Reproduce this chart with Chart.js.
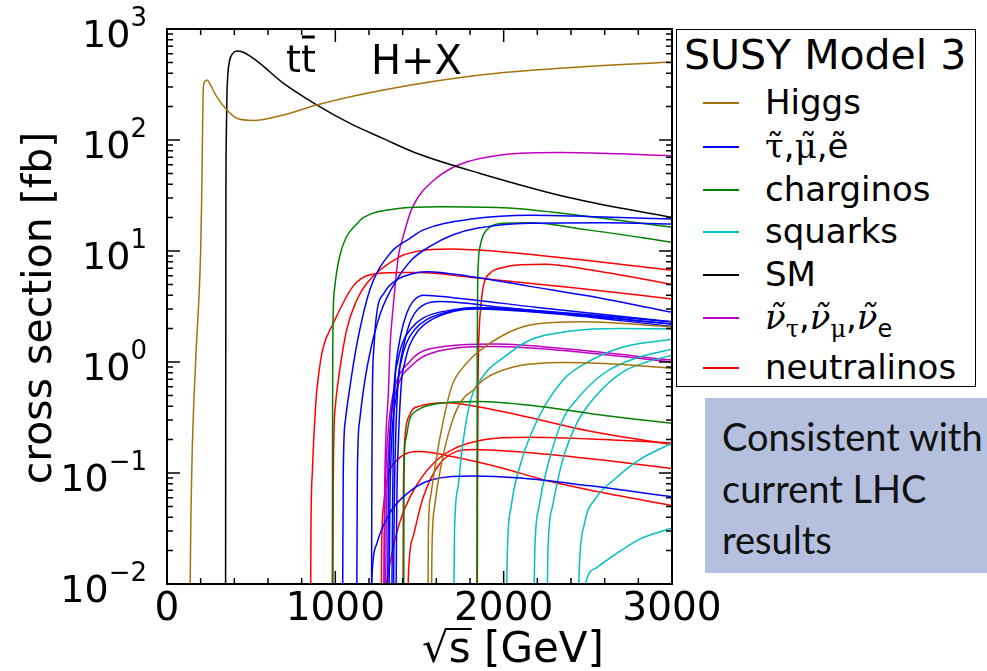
<!DOCTYPE html>
<html>
<head>
<meta charset="utf-8">
<script src="https://cdn.jsdelivr.net/npm/chart.js@4.4.1/dist/chart.umd.min.js"></script>
<style>
  body { margin: 0; background: #fff; }
  #wrap { position: relative; width: 987px; height: 671px; overflow: hidden; }
  #chart { position: absolute; left: 0; top: 0; }
  #legend {
    position: absolute; left: 676px; top: 29px; width: 298px; height: 356px;
    border: 1.5px solid #000; background: #fff; font-family: "DejaVu Sans"; color: #000;
  }
  #legend .title { position: absolute; left: 7px; top: 1px; font-size: 41px; white-space: nowrap; }
  #legend .row { position: absolute; left: 0; height: 0; }
  #legend .sw { position: absolute; left: 26px; width: 36px; top: -1px; height: 1.6px; }
  #legend .lbl { position: absolute; left: 88px; top: -21px; font-size: 34px; line-height: 40px; white-space: nowrap; }
  .gr { font-family: "DejaVu Serif"; }
  .it { font-style: italic; }
  #note {
    position: absolute; left: 705px; top: 398px; width: 300px; height: 175px;
    background: #b4c0de; font-family: Lato, "Open Sans", sans-serif; font-size: 38px; color: #111;
  }
  #note div { position: absolute; left: 17px; white-space: nowrap; }
</style>
</head>
<body>
<div id="wrap">
  <canvas id="chart" width="987" height="671"></canvas>
  <div id="legend"><div class="title">SUSY Model 3</div></div>
  <div id="note">
    <div style="top:15px">Consistent with</div>
    <div style="top:67px">current LHC</div>
    <div style="top:118px">results</div>
  </div>
</div>
<script>
// sqrt(s) [GeV], cross section [fb]
const higgsMain = [[137,0.005],[138,0.01],[147,0.1],[170,1],[200,10],[206,30],[216,302],[228,340],[239,347],[255,320],[295,246],[355,187],[414,157],[513,150],[691,168],[889,207],[1285,282],[1860,385],[2400,450],[3000,505]];
const higgs2 = [[1550,0.005],[1553,0.03],[1565,0.06],[1582,0.09],[1622,0.21],[1691,0.6],[1760,0.9],[1840,1.2],[2000,1.75],[2157,2.15],[2473,2.3],[3000,2.07]];
const higgs3 = [[1570,0.005],[1574,0.02],[1590,0.05],[1630,0.12],[1690,0.28],[1751,0.45],[1820,0.56],[1879,0.69],[2057,0.9],[2350,0.99],[2600,0.97],[3000,0.88]];

const smTop = [[348,0.005],[349,1],[350,30],[352,100],[356,250],[362,400],[372,520],[390,600],[418,633],[450,620],[500,560],[552,490],[691,325],[889,207],[1087,141],[1285,103],[1483,76],[1860,50],[2400,30],[3000,20]];

const slep1 = [[1043,0.005],[1047,0.1],[1060,0.3],[1087,0.6],[1130,1.5],[1206,4.5],[1325,9.5],[1444,13],[1523,15.5],[1820,19.5],[2157,21],[2500,20.5],[3000,19.4]];
const slep2 = [[1127,0.005],[1131,0.1],[1145,0.3],[1164,0.52],[1200,1.1],[1270,2.8],[1365,5.5],[1460,8.5],[1562,11],[1700,14],[1840,16],[2157,17.8],[2600,18],[3000,17.5]];
const slep3 = [[1215,0.005],[1217,0.1],[1220,0.5],[1230,1.4],[1246,2.75],[1290,4.2],[1365,5.5],[1450,6.2],[1543,6.5],[1800,5.9],[2157,4.8],[2600,3.7],[3000,2.8]];
const slep4 = [[1310,0.005],[1315,0.05],[1325,0.2],[1345,0.52],[1362,1.0],[1390,1.8],[1424,2.75],[1460,3.5],[1523,4.0],[1700,3.8],[2200,3.1],[3000,2.3]];
const slep5 = [[1318,0.005],[1324,0.05],[1335,0.2],[1365,0.52],[1382,0.9],[1410,1.5],[1450,2.4],[1530,3.3],[1620,3.5],[2000,3.1],[3000,2.2]];
const slep6 = [[1335,0.005],[1340,0.05],[1345,0.2],[1355,0.69],[1370,1.0],[1400,1.5],[1450,2.0],[1523,2.5],[1700,2.95],[1840,3.1],[2200,2.9],[3000,2.3]];
const slep7 = [[1345,0.005],[1350,0.05],[1358,0.2],[1374,0.69],[1390,1.0],[1420,1.45],[1470,1.95],[1540,2.4],[1700,2.9],[1840,3.05],[2200,2.85],[3000,2.2]];
const slep8 = [[1360,0.005],[1365,0.05],[1375,0.2],[1394,0.69],[1410,0.95],[1440,1.4],[1490,1.9],[1560,2.35],[1700,2.85],[1840,3.0],[2200,2.8],[3000,2.1]];
const slep9 = [[1212,0.005],[1218,0.012],[1246,0.023],[1325,0.044],[1404,0.061],[1562,0.086],[1820,0.094],[2100,0.09],[2500,0.077],[3000,0.061]];

const chi1 = [[982,0.005],[984,0.5],[987,2.5],[995,4.5],[1008,6.5],[1030,9.5],[1067,13.5],[1127,17.5],[1166,20],[1364,24],[1622,25],[2000,24.5],[2500,20.5],[3000,16.4]];
const chi2 = [[1841,0.005],[1843,1],[1845,4],[1850,8],[1860,11],[1880,14],[1920,16.5],[2000,17.8],[2156,18],[2500,15.5],[3000,12]];
const chi3 = [[1406,0.005],[1408,0.1],[1418,0.2],[1440,0.3],[1490,0.37],[1600,0.42],[1850,0.44],[2200,0.4],[2600,0.33],[3000,0.28]];

const sq1 = [[1703,0.005],[1708,0.03],[1730,0.076],[1751,0.155],[1800,0.43],[1879,0.75],[2000,1.1],[2157,1.58],[2400,1.9],[2700,2.0],[3000,1.98]];
const sq2 = [[2015,0.005],[2022,0.02],[2045,0.05],[2100,0.12],[2200,0.3],[2353,0.69],[2500,1.0],[2700,1.35],[3000,1.6]];
const sq3 = [[2178,0.005],[2185,0.02],[2210,0.05],[2270,0.13],[2350,0.3],[2434,0.46],[2600,0.8],[2800,1.1],[3000,1.3]];
const sq4 = [[2257,0.005],[2263,0.02],[2290,0.05],[2350,0.13],[2434,0.28],[2550,0.5],[2700,0.8],[2850,1.0],[3000,1.15]];
const sq5 = [[2441,0.005],[2450,0.015],[2480,0.035],[2550,0.06],[2652,0.086],[2800,0.13],[3000,0.186]];
const sq6 = [[2471,0.005],[2480,0.009],[2550,0.014],[2652,0.018],[2800,0.025],[3000,0.032]];

const snu1 = [[1288,0.005],[1292,0.05],[1300,0.2],[1315,0.52],[1325,1.37],[1345,3.3],[1374,8.9],[1400,13],[1453,23.7],[1582,43],[1860,68],[2340,77],[2700,75],[3000,72]];
const snu2 = [[1288,0.005],[1292,0.03],[1300,0.1],[1320,0.3],[1355,0.6],[1440,1.0],[1550,1.3],[1950,1.45],[2400,1.3],[3000,1.04]];
const snu3 = [[1298,0.005],[1302,0.03],[1310,0.1],[1330,0.3],[1370,0.6],[1460,0.95],[1570,1.2],[1950,1.38],[2400,1.25],[3000,1.0]];

const neu1 = [[853,0.005],[855,0.027],[864,0.107],[884,0.43],[900,0.75],[925,1.3],[986,2.2],[1105,4.8],[1206,6.1],[1384,6.4],[1500,6.4],[1800,5.8],[2400,4.7],[3000,3.7]];
const neu2 = [[985,0.005],[988,0.1],[1000,0.4],[1018,0.69],[1067,1.94],[1127,3.6],[1186,5.1],[1384,8.9],[1500,10],[1680,10.4],[2000,9.8],[2500,8.2],[3000,6.7]];
const neu3 = [[1843,0.005],[1845,0.1],[1848,0.7],[1855,2],[1862,2.9],[1879,4.8],[1919,6.3],[2000,7.1],[2100,7.5],[2250,7.6],[2500,6.8],[3000,5.0]];
const neu4 = [[1273,0.005],[1275,0.02],[1286,0.05],[1310,0.09],[1365,0.13],[1503,0.156],[1700,0.14],[2000,0.11],[2236,0.087],[2600,0.066],[3000,0.051]];
const neu5 = [[1288,0.005],[1300,0.009],[1325,0.0155],[1380,0.035],[1444,0.061],[1582,0.122],[1820,0.19],[2157,0.21],[2600,0.2],[3000,0.186]];
const neu6 = [[1430,0.005],[1434,0.012],[1463,0.027],[1523,0.061],[1622,0.122],[1820,0.163],[2157,0.152],[2600,0.13],[3000,0.11]];
const neu7 = [[1402,0.005],[1404,0.05],[1407,0.12],[1415,0.22],[1440,0.33],[1500,0.4],[1660,0.43],[1740,0.42],[2100,0.33],[2500,0.24],[3000,0.18]];

const groups = [
  { name: "Higgs", color: "#a5720e", curves: [higgsMain, higgs2, higgs3] },
  { name: "sleptons", color: "#0000ff", curves: [slep1, slep2, slep3, slep4, slep5, slep6, slep7, slep8, slep9] },
  { name: "charginos", color: "#008000", curves: [chi1, chi2, chi3] },
  { name: "squarks", color: "#00c0c0", curves: [sq1, sq2, sq3, sq4, sq5, sq6] },
  { name: "SM", color: "#000000", curves: [smTop] },
  { name: "sneutrinos", color: "#c000c0", curves: [snu1, snu2, snu3] },
  { name: "neutralinos", color: "#ff0000", curves: [neu1, neu2, neu3, neu4, neu5, neu6, neu7] },
];

const legendLabels = [
  "Higgs",
  '<span class="gr">τ\u0303</span>,<span class="gr">μ\u0303</span>,e\u0303',
  "charginos",
  "squarks",
  "SM",
  '<span class="gr it">ν\u0303</span><sub class="gr" style="font-size:24px">τ</sub>,<span class="gr it">ν\u0303</span><sub class="gr" style="font-size:24px">μ</sub>,<span class="gr it">ν\u0303</span><sub style="font-size:24px">e</sub>',
  "neutralinos",
];
const legendRowY = [73, 117, 160, 202, 245, 288, 338];

const xTicks = [0, 1000, 2000, 3000];
const yExps = [-2, -1, 0, 1, 2, 3];

const datasets = [];
groups.forEach(g => {
  g.curves.forEach(c => {
    datasets.push({
      label: g.name,
      data: c.map(p => ({ x: p[0], y: p[1] })),
      borderColor: g.color,
      borderWidth: 1.5,
      pointRadius: 0,
      fill: false,
      cubicInterpolationMode: "monotone",
    });
  });
});

// legend rows
const legend = document.getElementById("legend");
groups.forEach((g, i) => {
  const row = document.createElement("div");
  row.className = "row";
  row.style.top = legendRowY[i] + "px";
  row.innerHTML = '<div class="sw" style="background:' + g.color + '"></div><div class="lbl">' + legendLabels[i] + "</div>";
  legend.appendChild(row);
});

function supMinus(e) {
  return (e < 0 ? "\u2212" : "") + Math.abs(e);
}

const axesPlugin = {
  id: "axesPlugin",
  afterDraw(chart) {
    const { ctx, chartArea: a, scales: { x, y } } = chart;
    ctx.save();
    ctx.strokeStyle = "#000";
    ctx.fillStyle = "#000";

    // ticks
    ctx.lineWidth = 1.5;
    ctx.beginPath();
    for (let v = 0; v <= 3000; v += 200) {
      const px = x.getPixelForValue(v);
      const len = v % 1000 === 0 ? 13 : 6;
      ctx.moveTo(px, a.bottom); ctx.lineTo(px, a.bottom - len);
      ctx.moveTo(px, a.top); ctx.lineTo(px, a.top + len);
    }
    yExps.forEach(e => {
      for (let m = 1; m <= 9; m++) {
        if (e === 3 && m > 1) break;
        const py = y.getPixelForValue(m * Math.pow(10, e));
        const len = m === 1 ? 13 : 6;
        ctx.moveTo(a.left, py); ctx.lineTo(a.left + len, py);
        ctx.moveTo(a.right, py); ctx.lineTo(a.right - len, py);
      }
    });
    ctx.stroke();

    // frame
    ctx.lineWidth = 2;
    ctx.strokeRect(a.left, a.top, a.right - a.left, a.bottom - a.top);

    // x tick labels
    ctx.font = '39px "DejaVu Sans"';
    ctx.textAlign = "center";
    ctx.textBaseline = "alphabetic";
    xTicks.forEach(v => ctx.fillText(String(v), x.getPixelForValue(v), 620));

    // y tick labels
    yExps.forEach(e => {
      const py = y.getPixelForValue(Math.pow(10, e));
      ctx.textBaseline = "middle";
      ctx.textAlign = "right";
      ctx.font = '26px "DejaVu Sans"';
      const ex = supMinus(e);
      const ew = ctx.measureText(ex).width;
      ctx.fillText(ex, 147, py - 10);
      ctx.font = '38px "DejaVu Sans"';
      ctx.fillText("10", 147 - ew, py + 8);
    });

    // y title
    ctx.save();
    ctx.translate(40, 308);
    ctx.rotate(-Math.PI / 2);
    ctx.font = '41px "DejaVu Sans"';
    ctx.textAlign = "center";
    ctx.textBaseline = "middle";
    ctx.fillText("cross section [fb]", 0, 0);
    ctx.restore();

    // x title
    ctx.font = '42px "DejaVu Sans"';
    ctx.textAlign = "left";
    ctx.textBaseline = "alphabetic";
    const xt = "\u221As [GeV]";
    const tw = ctx.measureText(xt).width;
    const x0 = 513 - tw / 2;
    ctx.fillText(xt, x0, 662);
    const rw = ctx.measureText("\u221A").width;
    const sw = ctx.measureText("\u221As").width;
    ctx.lineWidth = 2;
    ctx.beginPath();
    ctx.moveTo(x0 + rw - 2, 629); ctx.lineTo(x0 + sw + 1, 629);
    ctx.stroke();

    // process labels
    ctx.font = '38px "DejaVu Sans"';
    ctx.fillText("tt", 286, 72);
    const t1 = ctx.measureText("t").width;
    const t2 = ctx.measureText("tt").width;
    ctx.lineWidth = 3;
    ctx.beginPath();
    ctx.moveTo(286 + t1 + 1, 37); ctx.lineTo(286 + t2 - 1, 37);
    ctx.stroke();
    ctx.font = '40px "DejaVu Sans"';
    ctx.fillText("H+X", 371, 74);

    ctx.restore();
  },
};

new Chart(document.getElementById("chart"), {
  type: "line",
  data: { datasets },
  options: {
    responsive: false,
    animation: false,
    layout: { padding: { left: 167, right: 315, top: 29, bottom: 87 } },
    scales: {
      x: { type: "linear", min: 0, max: 3000, display: false },
      y: { type: "logarithmic", min: 0.01, max: 1000, display: false },
    },
    plugins: { legend: { display: false }, tooltip: { enabled: false } },
  },
  plugins: [axesPlugin],
});
</script>
</body>
</html>
